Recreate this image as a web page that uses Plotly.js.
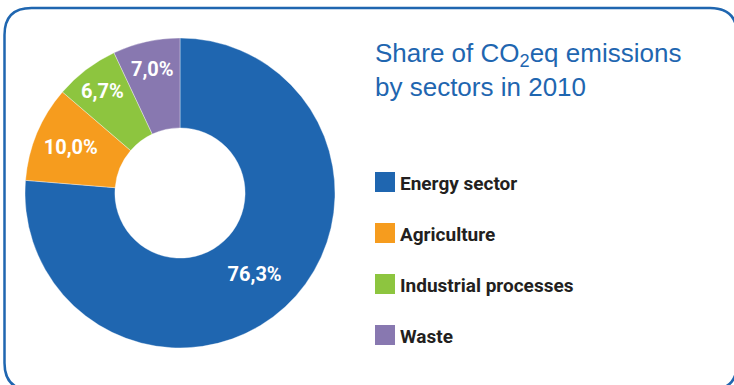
<!DOCTYPE html>
<html>
<head>
<meta charset="utf-8">
<script src="https://cdn.plot.ly/plotly-3.0.1.min.js"></script>
<style>
  html, body { margin: 0; padding: 0; background: #ffffff; }
  #chart { width: 734px; height: 385px; }
</style>
</head>
<body>
<div id="chart"></div>
<script>
// ---- data ----
const categories = ["Energy sector", "Agriculture", "Industrial processes", "Waste"];
const shares = [76.3, 10.0, 6.7, 7.0];
const colors = ["#1f66b0", "#f69c1e", "#8dc53f", "#8878b0"];
const sliceLabels = ["76,3%", "10,0%", "6,7%", "7,0%"];
const titleText = "Share of CO<sub>2</sub>eq emissions<br>by sectors in 2010";

// ---- layout helpers (pixel -> paper) ----
const W = 734, H = 385;
const px = x => x / W;
const py = y => 1 - y / H;

const narrowBold = "'Liberation Sans Narrow', 'Arial Narrow', Roboto, sans-serif";

// pie geometry
const cx = 180, cy = 193, R = 155;

const trace = {
  type: "pie",
  labels: categories,
  values: shares,
  text: sliceLabels,
  textinfo: "text",
  textposition: "inside",
  insidetextorientation: "horizontal",
  sort: false,
  direction: "clockwise",
  rotation: 0,
  hole: 0.42,
  marker: { colors: colors, line: { color: "rgba(255,255,255,0.6)", width: 0.6 } },
  insidetextfont: { family: narrowBold, size: 20, color: "#ffffff", weight: "bold" },
  domain: { x: [px(cx - R), px(cx + R)], y: [py(cy + R), py(cy - R)] },
  hoverinfo: "skip",
  showlegend: false
};

// legend drawn as shapes + annotations built from the category arrays
const legendX = 375, legendY0 = 182, legendStep = 51, sq = 20;
const shapes = [];
const annotations = [];
categories.forEach((c, i) => {
  const yc = legendY0 + i * legendStep;
  shapes.push({
    type: "rect", xref: "paper", yref: "paper",
    x0: px(legendX), x1: px(legendX + sq),
    y0: py(yc + sq / 2), y1: py(yc - sq / 2),
    fillcolor: colors[i], line: { width: 0 }
  });
  annotations.push({
    xref: "paper", yref: "paper",
    x: px(legendX + sq + 3), y: py(yc + 1),
    xanchor: "left", yanchor: "middle",
    text: "<b>" + c + "</b>", showarrow: false,
    font: { family: narrowBold, size: 19, color: "#231f20" }
  });
});

// rounded frame
const fx0 = 4.5, fy0 = 8, fx1 = 737, fy1 = 390, r = 27;
const P = (x, y) => px(x) + "," + py(y);
const framePath =
  "M" + P(fx0 + r, fy0) +
  " L" + P(fx1 - r, fy0) +
  " Q" + P(fx1, fy0) + " " + P(fx1, fy0 + r) +
  " L" + P(fx1, fy1 - r) +
  " Q" + P(fx1, fy1) + " " + P(fx1 - r, fy1) +
  " L" + P(fx0 + r, fy1) +
  " Q" + P(fx0, fy1) + " " + P(fx0, fy1 - r) +
  " L" + P(fx0, fy0 + r) +
  " Q" + P(fx0, fy0) + " " + P(fx0 + r, fy0) + " Z";
shapes.push({
  type: "path", xref: "paper", yref: "paper", path: framePath,
  line: { color: "#1f66b0", width: 2.5 }, fillcolor: "rgba(0,0,0,0)", layer: "above"
});

const layout = {
  width: W, height: H,
  margin: { l: 0, r: 0, t: 0, b: 0 },
  paper_bgcolor: "#ffffff",
  plot_bgcolor: "#ffffff",
  showlegend: false,
  title: {
    text: titleText,
    x: px(375), xref: "paper", xanchor: "left",
    y: py(62), yref: "paper", yanchor: "top",
    font: { family: "'Liberation Sans', Arial, sans-serif", size: 26, color: "#1f66b0" }
  },
  shapes: shapes,
  annotations: annotations
};

Plotly.newPlot("chart", [trace], layout, { staticPlot: true, displayModeBar: false });
</script>
</body>
</html>
